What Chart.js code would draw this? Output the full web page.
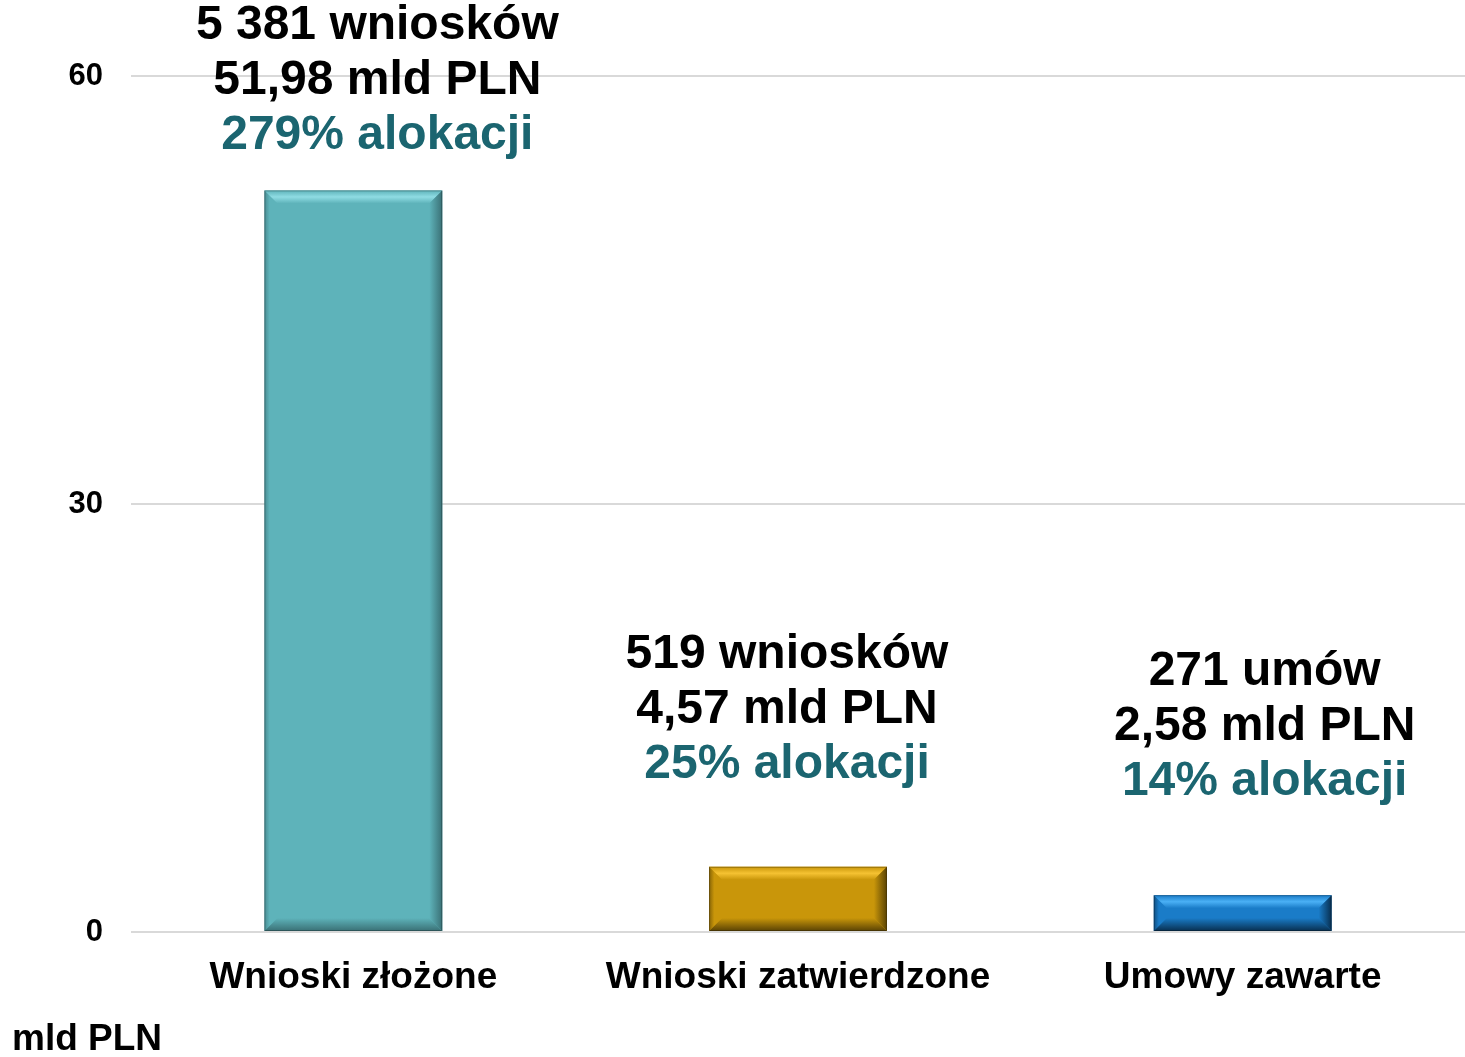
<!DOCTYPE html>
<html>
<head>
<meta charset="utf-8">
<script src="https://cdn.jsdelivr.net/npm/chart.js@4/dist/chart.umd.min.js"></script>
<style>
  html, body { margin: 0; padding: 0; background: #fff; }
  #wrap { width: 1465px; height: 1057px; position: relative; }
</style>
</head>
<body>
<div id="wrap"><canvas id="chart"></canvas></div>
<script>
// dane
const categories = ['Wnioski złożone', 'Wnioski zatwierdzone', 'Umowy zawarte'];
const amounts = [51.98, 4.57, 2.58];
const countLabels = ['5 381 wniosków', '519 wniosków', '271 umów'];
const amountLabels = ['51,98 mld PLN', '4,57 mld PLN', '2,58 mld PLN'];
const shareLabels = ['279% alokacji', '25% alokacji', '14% alokacji'];
const yTicks = [0, 30, 60];
const unitLabel = 'mld PLN';

// kolory słupków: baza, jasna krawędź, ciemna krawędź
const barColors = ['#5EB3BA', '#C9960A', '#1A7CC8'];
const barLight = ['#8FDCE3', '#F5C232', '#4AB0F5'];
const barDark = ['#3A7075', '#5A4304', '#082F50'];

const FONT = '"Liberation Sans", Arial, sans-serif';

// efekt fazowania (bevel) na słupkach
const bevelPlugin = {
  id: 'bevel',
  afterDatasetsDraw(chart) {
    const ctx = chart.ctx;
    chart.getDatasetMeta(0).data.forEach((bar, i) => {
      const { x, y, base, width } = bar.getProps(['x', 'y', 'base', 'width'], true);
      const l = x - width / 2, r = x + width / 2, t = y, b = base;
      const bv = Math.min(13, (b - t) / 2.5);
      ctx.save();
      // góra
      let g = ctx.createLinearGradient(0, t, 0, t + bv);
      g.addColorStop(0, barColors[i]);
      g.addColorStop(0.5, barLight[i]);
      g.addColorStop(1, barColors[i]);
      ctx.fillStyle = g;
      ctx.beginPath();
      ctx.moveTo(l, t); ctx.lineTo(r, t); ctx.lineTo(r - bv, t + bv); ctx.lineTo(l + bv, t + bv); ctx.closePath();
      ctx.fill();
      // dół
      g = ctx.createLinearGradient(0, b - bv, 0, b);
      g.addColorStop(0, barColors[i]);
      g.addColorStop(1, barDark[i]);
      ctx.fillStyle = g;
      ctx.beginPath();
      ctx.moveTo(l, b); ctx.lineTo(r, b); ctx.lineTo(r - bv, b - bv); ctx.lineTo(l + bv, b - bv); ctx.closePath();
      ctx.fill();
      // prawa
      g = ctx.createLinearGradient(r - bv, 0, r, 0);
      g.addColorStop(0, barColors[i]);
      g.addColorStop(1, barDark[i]);
      ctx.fillStyle = g;
      ctx.beginPath();
      ctx.moveTo(r, t); ctx.lineTo(r, b); ctx.lineTo(r - bv, b - bv); ctx.lineTo(r - bv, t + bv); ctx.closePath();
      ctx.fill();
      // lewa
      g = ctx.createLinearGradient(l, 0, l + bv, 0);
      g.addColorStop(0, barDark[i]);
      g.addColorStop(0.4, barColors[i]);
      g.addColorStop(1, barColors[i]);
      ctx.globalAlpha = 0.6;
      ctx.fillStyle = g;
      ctx.beginPath();
      ctx.moveTo(l, t); ctx.lineTo(l, b); ctx.lineTo(l + bv, b - bv); ctx.lineTo(l + bv, t + bv); ctx.closePath();
      ctx.fill();
      ctx.globalAlpha = 1;
      ctx.strokeStyle = 'rgba(0,0,0,0.25)';
      ctx.lineWidth = 1;
      ctx.strokeRect(l + 0.5, t + 0.5, width - 1, b - t - 1);
      ctx.restore();
    });
  }
};

// etykiety nad słupkami
const labelPlugin = {
  id: 'barLabels',
  afterDatasetsDraw(chart, args, opts) {
    const ctx = chart.ctx;
    ctx.save();
    ctx.font = 'bold 48px ' + FONT;
    ctx.textAlign = 'center';
    ctx.textBaseline = 'middle';
    chart.getDatasetMeta(0).data.forEach((bar, i) => {
      const cx = bar.x + opts.dx[i];
      const last = bar.y - opts.gap[i];
      ctx.fillStyle = '#000';
      ctx.fillText(countLabels[i], cx, last - 2 * opts.lineH);
      ctx.fillText(amountLabels[i], cx, last - opts.lineH);
      ctx.fillStyle = '#1B6570';
      ctx.fillText(shareLabels[i], cx, last);
    });
    ctx.restore();
  }
};

// jednostka osi w lewym dolnym rogu
const unitPlugin = {
  id: 'unit',
  afterDraw(chart) {
    const ctx = chart.ctx;
    ctx.save();
    ctx.font = 'bold 37px ' + FONT;
    ctx.fillStyle = '#000';
    ctx.textAlign = 'left';
    ctx.textBaseline = 'middle';
    ctx.fillText(unitLabel, 12, chart.height - 17);
    ctx.restore();
  }
};

new Chart(document.getElementById('chart'), {
  type: 'bar',
  data: {
    labels: categories,
    datasets: [{
      data: amounts,
      backgroundColor: barColors,
      borderWidth: 0,
      barPercentage: 0.4,
      categoryPercentage: 1.0
    }]
  },
  options: {
    responsive: true,
    maintainAspectRatio: false,
    animation: false,
    layout: { padding: { top: 76, right: 0, left: 12, bottom: 55 } },
    plugins: {
      legend: { display: false },
      tooltip: { enabled: false },
      barLabels: { dx: [24, -11, 22], gap: [55, 102, 113], lineH: 55 }
    },
    scales: {
      x: {
        grid: { display: false },
        border: { display: false },
        ticks: {
          color: '#000',
          padding: 16,
          font: { family: FONT, size: 37, weight: 'bold' }
        },
        afterFit(scale) { scale.height = 70; }
      },
      y: {
        min: 0,
        max: 60,
        afterBuildTicks(scale) { scale.ticks = yTicks.map(v => ({ value: v })); },
        grid: { color: '#D9D9D9', lineWidth: 2, drawTicks: false },
        border: { display: false },
        ticks: {
          color: '#000',
          padding: 28,
          font: { family: FONT, size: 31, weight: 'bold' }
        },
        afterFit(scale) { scale.width = 119; }
      }
    }
  },
  plugins: [bevelPlugin, labelPlugin, unitPlugin]
});
</script>
</body>
</html>
